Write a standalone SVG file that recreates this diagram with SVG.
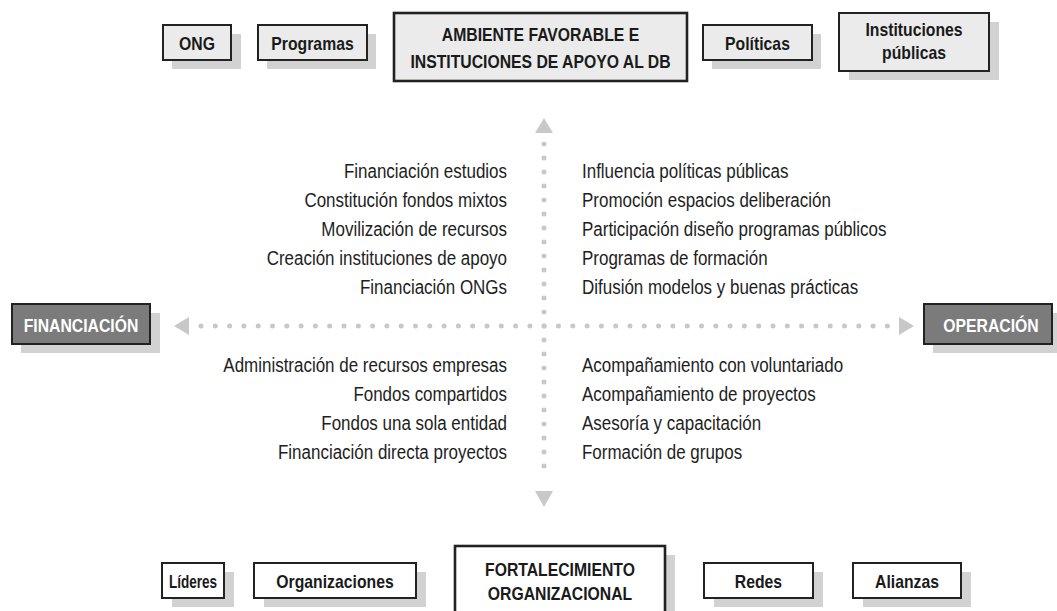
<svg xmlns="http://www.w3.org/2000/svg" width="1057" height="611" viewBox="0 0 1057 611">
<style>
.bx{fill:#ebebeb;stroke:#222;stroke-width:2}
.bw{fill:#fff;stroke:#222;stroke-width:2}
.bd{fill:#7b7b7b;stroke:#222;stroke-width:2}
.big{stroke-width:2.6}
.sh{fill:#d2d2d2}
.bt{font-family:"Liberation Sans",Arial,sans-serif;font-weight:bold;font-size:19px;fill:#1a1a1a;text-anchor:middle}
.wt{fill:#fff}
.rt{font-family:"Liberation Sans",Arial,sans-serif;font-size:19.5px;fill:#1e1e1e}
.dots{stroke:#c8c8c8;stroke-width:5;stroke-linecap:round;fill:none}
.tri{fill:#c8c8c8}
</style>
<rect width="1057" height="611" fill="#fff"/>

<g id="connectors">
<line class="dots" x1="201" y1="326" x2="888" y2="326" stroke-dasharray="0 14.3"/>
<line class="dots" x1="544" y1="144" x2="544" y2="480" stroke-dasharray="0 14"/>
<polygon class="tri" points="544,118 535,133 553,133"/>
<polygon class="tri" points="544,507 535,491 553,491"/>
<polygon class="tri" points="174,326 189,317 189,335"/>
<polygon class="tri" points="914,326 899,317 899,335"/>
</g>

<g id="labels-top-left" class="rt" text-anchor="end" transform="translate(507 0) scale(0.87 1)">
<text x="0" y="178">Financiación estudios</text>
<text x="0" y="207">Constitución fondos mixtos</text>
<text x="0" y="236">Movilización de recursos</text>
<text x="0" y="265">Creación instituciones de apoyo</text>
<text x="0" y="294">Financiación ONGs</text>
</g>
<g id="labels-top-right" class="rt" transform="translate(582 0) scale(0.87 1)">
<text x="0" y="178">Influencia políticas públicas</text>
<text x="0" y="207">Promoción espacios deliberación</text>
<text x="0" y="236">Participación diseño programas públicos</text>
<text x="0" y="265">Programas de formación</text>
<text x="0" y="294">Difusión modelos y buenas prácticas</text>
</g>
<g id="labels-bottom-left" class="rt" text-anchor="end" transform="translate(507 0) scale(0.87 1)">
<text x="0" y="372">Administración de recursos empresas</text>
<text x="0" y="401">Fondos compartidos</text>
<text x="0" y="430">Fondos una sola entidad</text>
<text x="0" y="459">Financiación directa proyectos</text>
</g>
<g id="labels-bottom-right" class="rt" transform="translate(582 0) scale(0.87 1)">
<text x="0" y="372">Acompañamiento con voluntariado</text>
<text x="0" y="401">Acompañamiento de proyectos</text>
<text x="0" y="430">Asesoría y capacitación</text>
<text x="0" y="459">Formación de grupos</text>
</g>

<g id="ong">
<rect class="sh" x="172" y="34" width="69" height="35"/>
<rect class="bx" x="163" y="25" width="68" height="35"/>
<text class="bt" transform="translate(197 49.5) scale(0.83 1)">ONG</text>
</g>
<g id="programas">
<rect class="sh" x="267" y="34" width="109" height="35"/>
<rect class="bx" x="258" y="25" width="109" height="35"/>
<text class="bt" transform="translate(312.5 49.5) scale(0.83 1)">Programas</text>
</g>
<g id="ambiente">
<rect class="bx big" x="394" y="13" width="293" height="68"/>
<text class="bt" transform="translate(540.5 41) scale(0.83 1)">AMBIENTE FAVORABLE E</text>
<text class="bt" transform="translate(540.5 68) scale(0.83 1)">INSTITUCIONES DE APOYO AL DB</text>
</g>
<g id="politicas">
<rect class="sh" x="712" y="34" width="109" height="35"/>
<rect class="bx" x="703" y="25" width="109" height="35"/>
<text class="bt" transform="translate(757.5 49.5) scale(0.83 1)">Políticas</text>
</g>
<g id="instituciones-publicas">
<rect class="sh" x="849" y="22" width="150" height="58"/>
<rect class="bx" x="839" y="13" width="150" height="58"/>
<text class="bt" transform="translate(914 36) scale(0.83 1)">Instituciones</text>
<text class="bt" transform="translate(914 59) scale(0.83 1)">públicas</text>
</g>

<g id="financiacion">
<rect class="sh" x="21" y="313" width="139" height="40"/>
<rect class="bd" x="12" y="304" width="138" height="40"/>
<text class="bt wt" transform="translate(81 331.5) scale(0.83 1)">FINANCIACIÓN</text>
</g>
<g id="operacion">
<rect class="sh" x="933" y="313" width="124" height="40"/>
<rect class="bd" x="924" y="304" width="128" height="40"/>
<text class="bt wt" transform="translate(991 331.5) scale(0.83 1)">OPERACIÓN</text>
</g>

<g id="lideres">
<rect class="sh" x="172" y="572" width="62" height="35"/>
<rect class="bw" x="162" y="563" width="62" height="35"/>
<text class="bt" transform="translate(193 587.5) scale(0.83 1)" textLength="58" lengthAdjust="spacingAndGlyphs">Líderes</text>
</g>
<g id="organizaciones">
<rect class="sh" x="264" y="572" width="162" height="35"/>
<rect class="bw" x="254" y="563" width="162" height="35"/>
<text class="bt" transform="translate(335 587.5) scale(0.83 1)">Organizaciones</text>
</g>
<g id="fortalecimiento">
<rect class="sh" x="465" y="555" width="210" height="70"/>
<rect class="bw big" x="455" y="546" width="210" height="70"/>
<text class="bt" transform="translate(560 576) scale(0.83 1)">FORTALECIMIENTO</text>
<text class="bt" transform="translate(560 600) scale(0.83 1)">ORGANIZACIONAL</text>
</g>
<g id="redes">
<rect class="sh" x="714" y="572" width="109" height="35"/>
<rect class="bw" x="704" y="563" width="109" height="35"/>
<text class="bt" transform="translate(758.5 587.5) scale(0.83 1)">Redes</text>
</g>
<g id="alianzas">
<rect class="sh" x="863" y="572" width="108" height="35"/>
<rect class="bw" x="853" y="563" width="108" height="35"/>
<text class="bt" transform="translate(907 587.5) scale(0.83 1)">Alianzas</text>
</g>
</svg>
